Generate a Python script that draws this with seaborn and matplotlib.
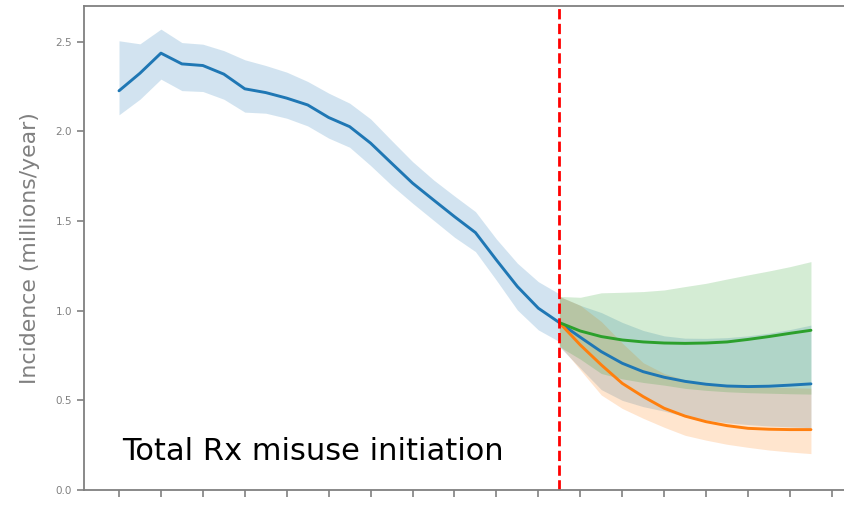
import matplotlib
matplotlib.use("Agg")
import matplotlib.pyplot as plt
import pandas as pd
import seaborn as sns

# Historical series (millions/year)
hist_years = list(range(2000, 2022))
hist_mean = [2.227, 2.325, 2.437, 2.377, 2.368, 2.320, 2.238, 2.217, 2.186, 2.148, 2.078,
             2.027, 1.935, 1.823, 1.712, 1.618, 1.525, 1.436, 1.283, 1.135, 1.014, 0.934]
hist_upper = [2.506, 2.489, 2.571, 2.496, 2.487, 2.451, 2.400, 2.368, 2.331, 2.279, 2.214,
              2.158, 2.070, 1.950, 1.832, 1.730, 1.640, 1.553, 1.400, 1.265, 1.162, 1.094]
hist_lower = [2.093, 2.180, 2.292, 2.228, 2.223, 2.180, 2.108, 2.102, 2.074, 2.031, 1.963,
              1.912, 1.810, 1.700, 1.600, 1.505, 1.410, 1.330, 1.170, 1.004, 0.893, 0.828]

# Projection scenarios
proj_years = list(range(2021, 2034))
base_mean = [0.934, 0.852, 0.772, 0.707, 0.660, 0.629, 0.606, 0.590, 0.580, 0.577, 0.579, 0.585, 0.592]
base_upper = [1.080, 1.030, 0.990, 0.935, 0.890, 0.860, 0.847, 0.846, 0.850, 0.860, 0.875, 0.895, 0.920]
base_lower = [0.800, 0.680, 0.560, 0.500, 0.465, 0.440, 0.410, 0.390, 0.375, 0.365, 0.357, 0.352, 0.348]

low_mean = [0.934, 0.809, 0.698, 0.595, 0.521, 0.456, 0.412, 0.381, 0.359, 0.344, 0.339, 0.337, 0.337]
low_upper = [1.080, 1.030, 0.940, 0.820, 0.710, 0.650, 0.615, 0.595, 0.585, 0.578, 0.574, 0.571, 0.568]
low_lower = [0.810, 0.670, 0.530, 0.455, 0.400, 0.350, 0.305, 0.278, 0.255, 0.238, 0.223, 0.212, 0.203]

high_mean = [0.934, 0.887, 0.856, 0.837, 0.826, 0.820, 0.818, 0.820, 0.826, 0.840, 0.856, 0.874, 0.891]
high_upper = [1.080, 1.075, 1.100, 1.103, 1.107, 1.116, 1.135, 1.153, 1.177, 1.200, 1.222, 1.246, 1.274]
high_lower = [0.800, 0.730, 0.650, 0.620, 0.600, 0.585, 0.567, 0.556, 0.548, 0.543, 0.540, 0.537, 0.535]

split_year = 2021
tick_years = list(range(2000, 2035, 2))

sns.set_style("white")
plt.rcParams["font.family"] = ["DejaVu Sans"]

BLUE, ORANGE, GREEN = "#1f77b4", "#ff7f0e", "#2ca02c"
GREY = "#808080"

fig = plt.figure(figsize=(8.44, 5.05), dpi=100)
ax = fig.add_axes([0.0995, 0.0297, 0.915, 0.9584])

hist = pd.DataFrame({"year": hist_years, "value": hist_mean})
ax.fill_between(hist_years, hist_lower, hist_upper, color=BLUE, alpha=0.2, linewidth=0)

scenarios = [
    (base_mean, base_lower, base_upper, BLUE),
    (low_mean, low_lower, low_upper, ORANGE),
    (high_mean, high_lower, high_upper, GREEN),
]
for mean, lo, hi, col in scenarios:
    ax.fill_between(proj_years, lo, hi, color=col, alpha=0.2, linewidth=0)

sns.lineplot(data=hist, x="year", y="value", color=BLUE, linewidth=2.1, ax=ax)
for mean, lo, hi, col in scenarios:
    df = pd.DataFrame({"year": proj_years, "value": mean})
    sns.lineplot(data=df, x="year", y="value", color=col, linewidth=2.1, ax=ax)

ax.axvline(split_year, color="red", linestyle="--", linewidth=2.0)

ax.set_xlim(1998.33, 2035.16)
ax.set_ylim(0, 2.7)
ax.set_xticks(tick_years)
ax.set_xticklabels([])
ax.set_yticks([0.0, 0.5, 1.0, 1.5, 2.0, 2.5])
ax.set_yticklabels(["0.0", "0.5", "1.0", "1.5", "2.0", "2.5"])
ax.tick_params(axis="both", direction="out", length=5, width=1.2, color=GREY,
               labelcolor=GREY, labelsize=7.5, bottom=True, left=True)
ax.set_xlabel("")
ax.set_ylabel("Incidence (millions/year)", color=GREY, fontsize=15.8, labelpad=11)

for side in ["left", "bottom", "top"]:
    ax.spines[side].set_color(GREY)
    ax.spines[side].set_linewidth(1.3)
ax.spines["right"].set_visible(False)

ax.text(2000.14, 0.167, "Total Rx misuse initiation", fontsize=22, color="black",
        ha="left", va="baseline")

fig.savefig("out.png", dpi=100)
